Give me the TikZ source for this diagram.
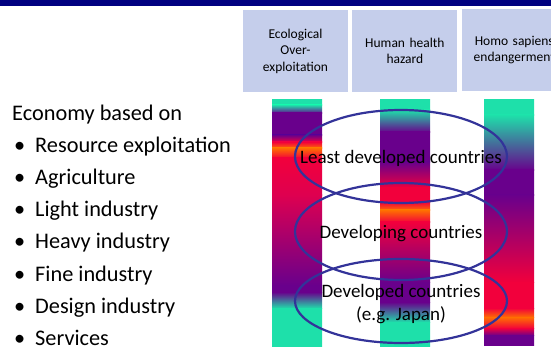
\documentclass[tikz,border=0pt]{standalone}
\usepackage{fontspec}
\setmainfont{Carlito}
\usetikzlibrary{shapes.geometric,positioning}
\definecolor{navy}{RGB}{0,0,128}
\definecolor{boxblue}{RGB}{197,206,235}
\definecolor{ringblue}{RGB}{51,51,153}
\definecolor{sea}{RGB}{30,224,170}
\definecolor{plum}{RGB}{105,0,140}
\definecolor{scarlet}{RGB}{242,0,60}
\definecolor{amber}{RGB}{255,112,0}
\definecolor{crimson}{RGB}{222,0,80}
\tikzstyle{header} = [rectangle, fill=boxblue, text width=98pt, align=center, minimum width=105pt, minimum height=82pt, inner sep=0pt, font=\fontsize{13.5}{16.5}\selectfont]
\tikzstyle{ring} = [ellipse, draw=ringblue, line width=2.2pt, inner sep=0pt]
\tikzstyle{tag} = [inner sep=0pt, align=center, font=\fontsize{19}{23.3}\selectfont]
\tikzstyle{entry} = [anchor=base west, inner sep=0pt, font=\fontsize{22.3}{27}\selectfont]

\begin{document}
\begin{tikzpicture}[x=1pt, y=-1pt]
	\useasboundingbox (0,0) rectangle (551,347);
	\fill[navy] (0,0) rectangle (551,6);
	
	% Header boxes
	\node[header] (ecol) at (295.5,51) {Ecological\\Over-\\exploitation};
	\node[header, right=4pt of ecol] (health) {Human health\\hazard};
	\node[header, right=4pt of health, yshift=1pt] (homo) {Homo sapiens\\endangerment};
	
	% Bars
	\foreach \xa/\ya/\yb/\ca/\cb in {
		272/100/105/sea/sea, 272/105/113/sea/plum, 272/113/135/plum/plum,
		272/135/142/plum/scarlet, 272/142/148/scarlet/amber, 272/148/158/amber/scarlet,
		272/158/195/scarlet/crimson, 272/195/285/crimson/plum, 272/285/292/plum/plum,
		272/292/308/plum/sea, 272/308/347/sea/sea,
		380/100/110/sea/sea, 380/110/132/sea/plum, 380/132/162/plum/plum,
		380/162/188/plum/scarlet, 380/188/202/scarlet/scarlet, 380/202/210/scarlet/amber,
		380/210/222/amber/scarlet, 380/222/282/scarlet/plum, 380/282/302/plum/plum,
		380/302/322/plum/sea, 380/322/347/sea/sea,
		484/100/115/sea/sea, 484/115/170/sea/plum, 484/170/195/plum/plum,
		484/195/282/plum/scarlet, 484/282/308/scarlet/scarlet, 484/308/317/scarlet/amber,
		484/317/328/amber/scarlet, 484/328/335/scarlet/plum, 484/335/345/plum/plum}
		\shade[top color=\ca, bottom color=\cb] (\xa,\ya) rectangle (\xa+50,\yb+0.6);
	
	% Rings
	\node[ring, minimum width=212pt, minimum height=93pt] (least-ring) at (401,156.5) {};
	\node[ring, minimum width=212pt, minimum height=97pt] (developing-ring) at (401,231.5) {};
	\node[ring, minimum width=212pt, minimum height=84pt] (developed-ring) at (401,301) {};
	\node[tag] (least) at (401,158.5) {Least developed countries};
	\node[tag] (developing) at (401,233.5) {Developing countries};
	\node[tag] (developed) at (401,304) {Developed countries\\(e.g. Japan)};
	
	% Economy list
	\node[entry] (econ) at (12,121) {Economy based on};
	\foreach \txt [count=\n] in {Resource exploitation, Agriculture, Light industry, Heavy industry, Fine industry, Design industry, Services} {
		\node[entry] (dot\n) at (14,121+32*\n) {\textbullet};
		\node[entry] (item\n) at (35,121+32*\n) {\txt};
	}
\end{tikzpicture}
\end{document}
